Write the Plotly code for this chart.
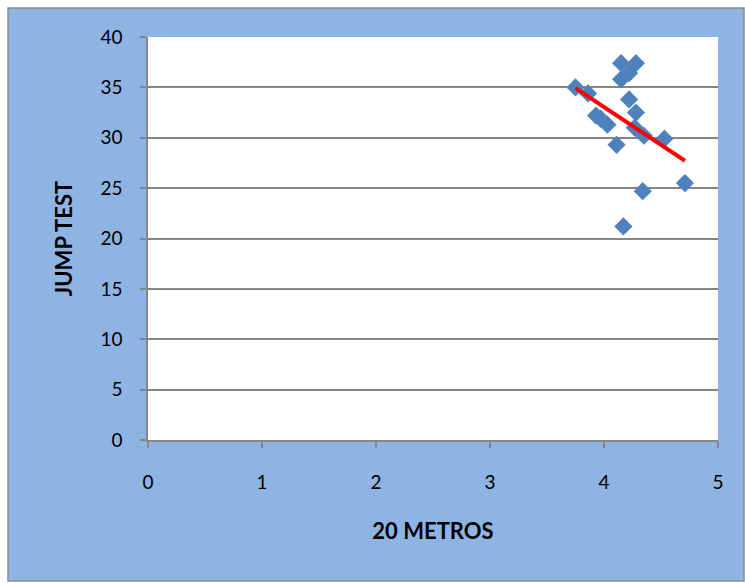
import numpy as np
import plotly.graph_objects as go

# 20 m sprint time vs jump test score
metros_20 = [3.75, 3.86, 4.15, 4.28, 4.15, 4.22, 4.22, 4.28, 3.93, 3.97, 4.03,
             4.11, 4.27, 4.35, 4.53, 4.71, 4.34, 4.17]
jump_test = [35.0, 34.4, 37.4, 37.4, 35.8, 36.4, 33.8, 32.5, 32.2, 31.9, 31.3,
             29.3, 31.0, 30.2, 29.9, 25.5, 24.7, 21.2]

x_ticks = [0, 1, 2, 3, 4, 5]
y_ticks = [0, 5, 10, 15, 20, 25, 30, 35, 40]

# least-squares linear trend
xs = np.array(metros_20)
ys = np.array(jump_test)
slope, intercept = np.polyfit(xs, ys, 1)
trend_x = [xs.min(), xs.max()]
trend_y = [slope * v + intercept for v in trend_x]

fig = go.Figure()
fig.add_trace(go.Scatter(
    x=metros_20, y=jump_test, mode="markers",
    marker=dict(symbol="diamond", size=14, color="#4F81BD", line=dict(width=0)),
    showlegend=False,
))
fig.add_trace(go.Scatter(
    x=trend_x, y=trend_y, mode="lines",
    line=dict(color="#FF0000", width=4),
    showlegend=False,
))

W, H = 745, 583
L, R, T, B = 148, 27, 37, 143
pw, ph = W - L - R, H - T - B


def px_x(p):
    return (p - L) / pw


def px_y(p):
    return (H - B - p) / ph


# chart background panel with border, then the white plot area on top of it
fig.add_shape(type="rect", xref="paper", yref="paper", layer="below",
              x0=px_x(8), x1=px_x(744), y0=px_y(581), y1=px_y(8),
              fillcolor="#8EB4E3", line=dict(color="#8C8C8C", width=1.5))
fig.add_shape(type="rect", xref="paper", yref="paper", layer="below",
              x0=0, x1=1, y0=0, y1=1,
              fillcolor="#FFFFFF", line=dict(width=0))

font_family = "Lato, 'Open Sans', sans-serif"
fig.update_layout(
    width=W, height=H,
    margin=dict(l=L, r=R, t=T, b=B),
    paper_bgcolor="#FFFFFF",
    plot_bgcolor="#FFFFFF",
    font=dict(family=font_family, size=19, color="#000000"),
)
fig.update_xaxes(
    range=[0, 5], tickvals=x_ticks, showgrid=False, zeroline=False,
    showline=True, linecolor="#868686", linewidth=1.5,
    ticks="outside", ticklen=6, tickcolor="#868686", tickwidth=1.5,
    ticklabelstandoff=18,
    title=dict(text="<b>20 METROS</b>", font=dict(size=22), standoff=32),
)
fig.update_yaxes(
    range=[0, 40], tickvals=y_ticks, showgrid=True, gridcolor="#868686",
    gridwidth=1.5, zeroline=False,
    showline=True, linecolor="#868686", linewidth=1.5,
    ticks="outside", ticklen=6, tickcolor="#868686", tickwidth=1.5,
    ticklabelstandoff=14,
    title=dict(text="<b>JUMP TEST</b>", font=dict(size=22), standoff=22),
)

fig.write_html("out.html")
